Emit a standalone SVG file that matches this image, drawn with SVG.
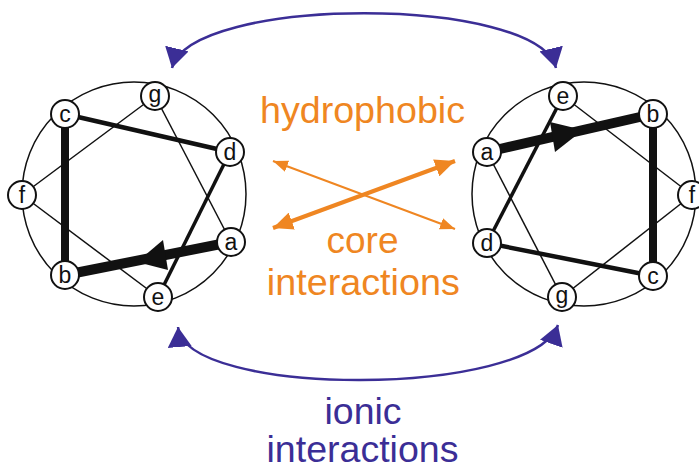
<svg xmlns="http://www.w3.org/2000/svg" width="699" height="469" viewBox="0 0 699 469">
<style>
.ring{fill:none;stroke:#111;stroke-width:1.5}
.thin{stroke:#111;stroke-width:1.5;fill:none}
.mid{stroke:#111;stroke-width:4.5;fill:none}
.thick{stroke:#111;stroke-width:8;fill:none}
.vthick{stroke:#111;stroke-width:10;fill:none}
.node circle{fill:#fff;stroke:#111;stroke-width:2}
.node text{font-family:"Liberation Sans",Arial,sans-serif;font-size:23px;fill:#111;text-anchor:middle}
.blue{stroke:#3b2e96;stroke-width:2.5;fill:none}
.orthin{stroke:#ef8622;stroke-width:2;fill:none}
.orthick{stroke:#ef8622;stroke-width:4;fill:none}
.lbl{font-family:"Liberation Sans",Arial,sans-serif;font-size:36px;text-anchor:middle}
.or{fill:#ef8622}
.bl{fill:#3b2e96}
</style>
<defs>
<marker id="mBlue" markerUnits="userSpaceOnUse" markerWidth="22" markerHeight="24" refX="20" refY="12" orient="auto-start-reverse" viewBox="0 0 22 24">
<path d="M0,0 L20,12 L0,24 z" fill="#3b2e96"/>
</marker>
<marker id="mOrThin" markerUnits="userSpaceOnUse" markerWidth="16" markerHeight="12" refX="15" refY="6" orient="auto-start-reverse" viewBox="0 0 16 12">
<path d="M0,0 L15,6 L0,12 z" fill="#ef8622"/>
</marker>
<marker id="mOrThick" markerUnits="userSpaceOnUse" markerWidth="21" markerHeight="18" refX="20" refY="9" orient="auto-start-reverse" viewBox="0 0 21 18">
<path d="M0,0 L20,9 L0,18 z" fill="#ef8622"/>
</marker>
</defs>

<g id="connectors">
<!-- left wheel -->
<circle class="ring" cx="134" cy="194" r="112"/>
<line class="thin" x1="155" y1="96" x2="22" y2="195"/>
<line class="thin" x1="22" y1="195" x2="158" y2="297"/>
<line class="thin" x1="155" y1="96" x2="231" y2="242"/>
<line class="mid" x1="65" y1="114" x2="230" y2="152"/>
<line class="mid" x1="230" y1="152" x2="158" y2="297" style="stroke-width:3.5"/>
<line class="thick" x1="65" y1="114" x2="65" y2="275"/>
<line class="vthick" x1="65" y1="275" x2="231" y2="242"/>
<polygon points="137,262 163,240 168,270" fill="#111"/>
<!-- right wheel -->
<circle class="ring" cx="584" cy="194" r="112"/>
<line class="thin" x1="563" y1="96" x2="692" y2="195"/>
<line class="thin" x1="692" y1="195" x2="562" y2="297"/>
<line class="thin" x1="487" y1="152" x2="562" y2="297"/>
<line class="mid" x1="563" y1="96" x2="487" y2="243" style="stroke-width:3.5"/>
<line class="mid" x1="487" y1="243" x2="653" y2="276"/>
<line class="thick" x1="653" y1="114" x2="653" y2="276"/>
<line class="vthick" x1="487" y1="152" x2="653" y2="114"/>
<polygon points="583,130 550,122 555,152" fill="#111"/>
<!-- ionic arcs -->
<path class="blue" d="M172,68 C190,-5 538,-5 556,68" marker-start="url(#mBlue)" marker-end="url(#mBlue)"/>
<path class="blue" d="M178,327 C184,398 532,398 558,325" marker-start="url(#mBlue)" marker-end="url(#mBlue)"/>
<!-- hydrophobic core arrows -->
<line class="orthin" x1="273" y1="161" x2="455" y2="229" marker-start="url(#mOrThin)" marker-end="url(#mOrThin)"/>
<line class="orthick" x1="273" y1="228" x2="455" y2="161" marker-start="url(#mOrThick)" marker-end="url(#mOrThick)"/>
</g>

<g id="L-g" class="node"><circle cx="155" cy="96" r="14"/><text x="155" y="102">g</text></g>
<g id="L-c" class="node"><circle cx="65" cy="114" r="14"/><text x="65" y="122">c</text></g>
<g id="L-d" class="node"><circle cx="230" cy="152" r="14"/><text x="230" y="160">d</text></g>
<g id="L-f" class="node"><circle cx="22" cy="195" r="14"/><text x="22" y="203">f</text></g>
<g id="L-a" class="node"><circle cx="231" cy="242" r="14"/><text x="231" y="250">a</text></g>
<g id="L-b" class="node"><circle cx="65" cy="275" r="14"/><text x="65" y="283">b</text></g>
<g id="L-e" class="node"><circle cx="158" cy="297" r="14"/><text x="158" y="305">e</text></g>

<g id="R-e" class="node"><circle cx="563" cy="96" r="14"/><text x="563" y="104">e</text></g>
<g id="R-b" class="node"><circle cx="653" cy="114" r="14"/><text x="653" y="122">b</text></g>
<g id="R-a" class="node"><circle cx="487" cy="152" r="14"/><text x="487" y="160">a</text></g>
<g id="R-f" class="node"><circle cx="692" cy="195" r="14"/><text x="692" y="203">f</text></g>
<g id="R-d" class="node"><circle cx="487" cy="243" r="14"/><text x="487" y="251">d</text></g>
<g id="R-c" class="node"><circle cx="653" cy="276" r="14"/><text x="653" y="284">c</text></g>
<g id="R-g" class="node"><circle cx="562" cy="297" r="14"/><text x="562" y="303">g</text></g>

<g id="labels">
<text class="lbl or" x="362.5" y="122.5" textLength="205" lengthAdjust="spacingAndGlyphs">hydrophobic</text>
<text class="lbl or" x="362.5" y="253" textLength="72" lengthAdjust="spacingAndGlyphs">core</text>
<text class="lbl or" x="363.3" y="295" textLength="193" lengthAdjust="spacingAndGlyphs">interactions</text>
<text class="lbl bl" x="363" y="424" textLength="77" lengthAdjust="spacingAndGlyphs">ionic</text>
<text class="lbl bl" x="362.5" y="462" textLength="192" lengthAdjust="spacingAndGlyphs">interactions</text>
</g>
</svg>
